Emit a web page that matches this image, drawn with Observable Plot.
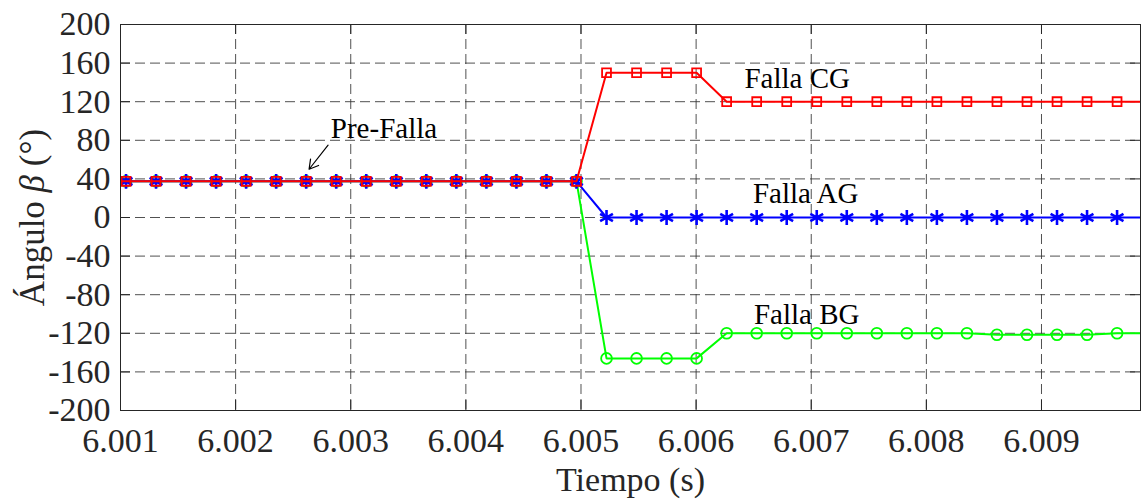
<!DOCTYPE html>
<html><head><meta charset="utf-8">
<script src="https://cdn.jsdelivr.net/npm/d3@7"></script>
<script src="https://cdn.jsdelivr.net/npm/@observablehq/plot@0.6"></script>
<style>
body{margin:0;background:#fff;}
#chart svg{display:block;}
</style></head><body><div id="chart"></div>
<script>
// Sample instants (s)
const times = [6.000787, 6.001048, 6.0013087, 6.0015696, 6.0018304, 6.0020913, 6.0023522, 6.002613,
  6.0028739, 6.0031348, 6.0033957, 6.0036565, 6.0039174, 6.0041783, 6.0044391, 6.0047,
  6.0049609, 6.0052217, 6.0054826, 6.0057435, 6.0060043, 6.0062652, 6.0065261, 6.006787,
  6.0070478, 6.0073087, 6.0075696, 6.0078304, 6.0080913, 6.0083522, 6.008613, 6.0088739,
  6.0091348, 6.0093957, 6.0096565, 6.0099174];
// Angle beta (deg) for each fault type
const betaAG = [37.5, 37.5, 37.5, 37.5, 37.5, 37.5, 37.5, 37.5, 37.5, 37.5, 37.5, 37.5, 37.5, 37.5, 37.5, 37.5, 37.5,
  0, 0, 0, 0, 0, 0, 0, 0, 0, 0, 0, 0, 0, 0, 0, 0, 0, 0, 0];
const betaBG = [37.5, 37.5, 37.5, 37.5, 37.5, 37.5, 37.5, 37.5, 37.5, 37.5, 37.5, 37.5, 37.5, 37.5, 37.5, 37.5, 37.5,
  -146, -146, -146, -146, -120, -120, -120, -120, -120, -120, -120, -120, -120, -121.5, -121.5, -121.5, -121.5, -120, -120];
const betaCG = [37.5, 37.5, 37.5, 37.5, 37.5, 37.5, 37.5, 37.5, 37.5, 37.5, 37.5, 37.5, 37.5, 37.5, 37.5, 37.5, 37.5,
  150, 150, 150, 150, 120, 120, 120, 120, 120, 120, 120, 120, 120, 120, 120, 120, 120, 120, 120];

const xTicks = [6.001, 6.002, 6.003, 6.004, 6.005, 6.006, 6.007, 6.008, 6.009];
const yTicks = [-200, -160, -120, -80, -40, 0, 40, 80, 120, 160, 200];
const xDomain = [6.001, 6.00986];
const yDomain = [-200, 200];

const annotationText = ["Pre-Falla", "Falla CG", "Falla AG", "Falla BG"];
const annotationT = [6.002827, 6.006420, 6.006493, 6.006502];
const annotationV = [82, 134, 15.5, -110.5];
const arrowFrom = [6.002803, 75];
const arrowTo = [6.002638, 50];

const xLabel = "Tiempo (s)";
const yLabel = "Ángulo β (°)";

const mk = (vals) => times.map((t, i) => ({t, v: vals[i]}));
const dAG = mk(betaAG), dBG = mk(betaBG), dCG = mk(betaCG);
const notes = annotationText.map((text, i) => ({text, t: annotationT[i], v: annotationV[i]}));

const FONT = "Liberation Serif, Times New Roman, serif";
const INK = "#262626";
const W = 1141, H = 500, ML = 120, MR = 1, MT = 24, MB = 90;
const FW = W - ML - MR, FH = H - MT - MB;

const chart = Plot.plot({
  width: W, height: H,
  marginLeft: ML, marginRight: MR, marginTop: MT, marginBottom: MB,
  style: {fontFamily: FONT, background: "#fff", color: INK},
  x: {domain: xDomain, axis: null},
  y: {domain: yDomain, axis: null},
  marks: [
    Plot.gridX(xTicks, {stroke: "#333", strokeOpacity: 0.85, strokeDasharray: "10,5"}),
    Plot.gridY(yTicks, {stroke: "#333", strokeOpacity: 0.85, strokeDasharray: "10,5"}),
    // inward ticks
    Plot.tickX(xTicks, {x: d => d, insetTop: FH - 10, stroke: INK}),
    Plot.tickX(xTicks, {x: d => d, insetBottom: FH - 10, stroke: INK}),
    Plot.tickY(yTicks, {y: d => d, insetRight: FW - 10, stroke: INK}),
    Plot.tickY(yTicks, {y: d => d, insetLeft: FW - 10, stroke: INK}),
    Plot.axisX(xTicks, {anchor: "bottom", tickSize: 0, tickPadding: 17, tickFormat: d3.format(".3f"),
      fontSize: 34, fill: INK, label: null}),
    Plot.axisY(yTicks, {anchor: "left", tickSize: 0, tickPadding: 10, tickFormat: d => `${d}`,
      fontSize: 34, fill: INK, label: null}),
    // BG
    Plot.line(dBG, {x: "t", y: "v", stroke: "#00ff00", strokeWidth: 2, clip: true}),
    Plot.dot(dBG, {x: "t", y: "v", symbol: "circle", r: 5.4, stroke: "#00ff00", strokeWidth: 1.8, fill: "none", clip: true}),
    // AG
    Plot.line(dAG, {x: "t", y: "v", stroke: "#0000ff", strokeWidth: 2, clip: true}),
    Plot.dot(dAG, {x: "t", y: "v", symbol: "asterisk", r: 7, stroke: "#0000ff", strokeWidth: 2.6, clip: true}),
    // CG
    Plot.line(dCG, {x: "t", y: "v", stroke: "#ff0000", strokeWidth: 2, clip: true}),
    Plot.dot(dCG, {x: "t", y: "v", symbol: "square", r: 5, stroke: "#ff0000", strokeWidth: 1.8, fill: "none", clip: true}),
    Plot.frame({stroke: INK}),
    // annotations
    Plot.text(notes, {x: "t", y: "v", text: "text", textAnchor: "start", lineAnchor: "bottom",
      fontSize: 29, fill: "#000"}),
    Plot.arrow([0], {x1: () => arrowFrom[0], y1: () => arrowFrom[1], x2: () => arrowTo[0], y2: () => arrowTo[1],
      stroke: "#000", strokeWidth: 1.2, headLength: 13}),
    // axis titles
    Plot.text([xLabel], {frameAnchor: "bottom", text: d => d, dy: 80, textAnchor: "middle", lineAnchor: "bottom", fontSize: 34, fill: INK}),
    Plot.text([yLabel], {frameAnchor: "left", text: d => d, dx: -77, rotate: -90, textAnchor: "middle", lineAnchor: "bottom", fontSize: 35, fill: INK})
  ]
});

// italic beta in the y title
d3.select(chart).selectAll("text").filter(function() { return this.textContent === yLabel; })
  .each(function() {
    const el = d3.select(this);
    el.text(null);
    el.append("tspan").text("Ángulo ");
    el.append("tspan").attr("font-style", "italic").text("β");
    el.append("tspan").text(" (°)");
  });

document.getElementById("chart").appendChild(chart);
</script>
</body></html>
